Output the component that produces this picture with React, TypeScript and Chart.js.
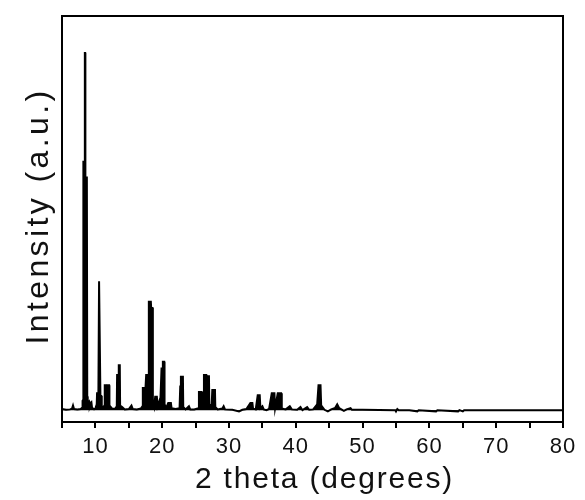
import React, { useEffect, useRef } from "react";
import { Chart, registerables } from "chart.js";

Chart.register(...registerables);

// 2 theta (degrees) positions
const twoTheta: number[] = [
  5.0, 5.6, 6.2, 6.5, 6.65, 6.8, 7.3, 7.8, 8.0, 8.08, 8.15, 8.2, 8.38, 8.42, 8.47, 8.5, 8.72, 8.78, 8.85,
  8.95, 9.05, 9.15, 9.3, 9.4, 9.5, 9.8, 10.0, 10.2, 10.25, 10.45, 10.55, 10.68, 10.75, 10.9, 10.95, 11.2,
  11.35, 11.4, 11.55, 11.7, 11.8, 12.05, 12.1, 12.5, 12.9, 13.2, 13.25, 13.45, 13.5, 13.65, 13.7, 14.0,
  14.4, 15.0, 15.4, 15.6, 16.2, 16.8, 17.05, 17.1, 17.5, 17.6, 17.95, 18.0, 18.3, 18.35, 18.55, 18.6,
  18.8, 18.95, 19.2, 19.3, 19.6, 19.7, 19.9, 20.05, 20.1, 20.3, 20.35, 20.6, 20.9, 21.3, 21.4, 22.0,
  22.6, 22.7, 22.8, 23.1, 23.15, 23.5, 24.0, 24.2, 24.8, 25.4, 25.5, 25.9, 25.95, 26.2, 26.25, 26.6,
  26.65, 26.75, 27.0, 27.05, 27.4, 27.5, 27.9, 27.95, 28.3, 29.0, 29.2, 29.4, 30.5, 31.5, 32.0, 32.6,
  33.2, 33.5, 33.6, 34.0, 34.3, 34.6, 34.7, 35.0, 35.2, 35.6, 36.0, 36.4, 36.8, 36.9, 37.3, 37.8, 37.9,
  38.5, 39.1, 39.4, 40.2, 40.7, 41.0, 41.7, 42.0, 42.6, 43.2, 43.4, 43.7, 43.8, 44.3, 44.8, 45.3, 45.9,
  46.2, 46.5, 47.2, 47.6, 48.2, 48.4, 50.0, 54.9, 55.0, 55.2, 55.4, 57.0, 58.2, 58.4, 61.0, 61.2, 64.3,
  64.5, 65.0, 65.2, 80.0,
];

// intensity (a.u.) at each position above
const intensity: number[] = [
  0.3, 0.1, 0.2, 0.4, 1.2, 0.3, 0.2, 0.3, 0.6, 2.4, 2.6, 63, 63, 90.6, 90.6, 59, 59, 3.5, 1.0,
  2.0, 2.2, 1.0, 1.8, 2.0, 0.6, 0.2, 0.4, 1.5, 4.3, 4.3, 32.7, 32.7, 3.8, 3.6, 1.0, 0.8,
  1.2, 6.3, 6.3, 5.5, 6.3, 6.3, 1.2, 0.4, 0.3, 1.0, 8.9, 8.9, 11.4, 11.4, 1.2, 0.8,
  0.2, 0.3, 1.2, 0.3, 0.2, 0.4, 1.0, 5.6, 5.6, 8.9, 8.9, 27.5, 27.5, 25.9, 25.9, 2.0,
  0.8, 3.4, 3.4, 1.0, 2.5, 1.2, 10.6, 10.6, 12.3, 12.3, 1.5, 0.6, 1.8, 1.8, 0.5, 0.3,
  0.5, 6.0, 8.5, 8.5, 0.8, 0.2, 1.0, 0.2, 0.2, 0.5, 4.6, 4.6, 1.0, 1.0, 8.9, 8.9,
  5.0, 8.6, 8.6, 1.5, 1.0, 5.1, 5.1, 0.8, 0.2, 0.4, 1.0, 0.2, 0.1, -0.3, 0.1, 0.3,
  1.8, 1.8, 0.4, 0.2, 3.8, 3.8, 0.5, 1.0, 0.2, 0.0, 0.3, 4.3, 4.3, 0.5, 4.3, 4.3, 0.4,
  0.2, 1.0, 0.2, 0.1, 0.8, 0.0, 0.8, 0.1, 0.2, 1.5, 6.3, 6.3, 1.2, 0.1, -0.3, 0.2, 0.6,
  1.5, 0.5, -0.2, 0.2, 0.5, 0.1, 0.1, 0.0, -0.3, 0.3, 0.0, 0.0, -0.3, 0.0, -0.3, 0.0, -0.3,
  0.0, -0.3, 0.0, 0.0,
];

const xTickValues: number[] = [5, 10, 15, 20, 25, 30, 35, 40, 45, 50, 55, 60, 65, 70, 75, 80];
const xLabeledTicks: number[] = [10, 20, 30, 40, 50, 60, 70, 80];

const FONT = "'Liberation Sans', Arial, sans-serif";

const framePlugin = {
  id: "frame",
  afterDraw(chart: any) {
    const { ctx, chartArea } = chart;
    ctx.save();
    ctx.strokeStyle = "#000";
    ctx.lineWidth = 2;
    ctx.strokeRect(chartArea.left, chartArea.top, chartArea.right - chartArea.left, chartArea.bottom - chartArea.top);
    ctx.restore();
  },
};

function spaced(scale: any, titleSpacing: string, labelSpacing: string, dx: number, dy: number) {
  if (scale.__spaced) return;
  scale.__spaced = true;
  const origTitle = scale.drawTitle;
  const origLabels = scale.drawLabels;
  scale.drawTitle = function (...args: any[]) {
    const ctx = this.ctx;
    ctx.save();
    ctx.letterSpacing = titleSpacing;
    ctx.translate(dx, dy);
    origTitle.apply(this, args);
    ctx.restore();
  };
  scale.drawLabels = function (...args: any[]) {
    const ctx = this.ctx;
    ctx.save();
    ctx.letterSpacing = labelSpacing;
    origLabels.apply(this, args);
    ctx.restore();
  };
}

export default function App() {
  const ref = useRef<HTMLCanvasElement | null>(null);

  useEffect(() => {
    document.body.style.margin = "0";
    if (!ref.current) return;
    const data = twoTheta.map((x, i) => ({ x, y: intensity[i] }));
    const chart = new Chart(ref.current, {
      type: "line",
      data: {
        datasets: [
          {
            data,
            borderColor: "#000",
            backgroundColor: "#000",
            borderWidth: 2,
            pointRadius: 0,
            tension: 0,
            fill: "origin",
          },
        ],
      },
      options: {
        responsive: false,
        animation: false,
        layout: { padding: { top: 16, right: 22, left: 0, bottom: 0 } },
        plugins: { legend: { display: false }, tooltip: { enabled: false } },
        scales: {
          x: {
            type: "linear",
            min: 5,
            max: 80,
            afterBuildTicks: (scale: any) => {
              scale.ticks = xTickValues.map((v) => ({ value: v }));
            },
            afterFit: (scale: any) => {
              scale.height = 78;
              spaced(scale, "1.8px", "1px", 12, 0);
            },
            ticks: {
              autoSkip: false,
              maxRotation: 0,
              color: "#111",
              font: { family: FONT, size: 22 },
              padding: 6,
              callback: (v: any) => (xLabeledTicks.includes(Number(v)) ? String(v) : ""),
            },
            grid: {
              display: true,
              drawOnChartArea: false,
              drawTicks: true,
              tickLength: 6,
              color: "#000",
              lineWidth: 2,
            },
            border: { display: true, color: "#000", width: 2 },
            title: {
              display: true,
              text: "2 theta (degrees)",
              color: "#111",
              font: { family: FONT, size: 30 },
              padding: { top: 0, bottom: 2 },
            },
          },
          y: {
            type: "linear",
            min: -3,
            max: 100,
            afterFit: (scale: any) => {
              scale.width = 62;
              spaced(scale, "3.4px", "0px", 0, -3);
            },
            ticks: { display: false },
            grid: { display: false },
            border: { display: true, color: "#000", width: 2 },
            title: {
              display: true,
              text: "Intensity (a.u.)",
              color: "#111",
              font: { family: FONT, size: 32 },
              padding: { top: 20, bottom: 0 },
            },
          },
        },
      },
      plugins: [framePlugin],
    } as any);
    return () => chart.destroy();
  }, []);

  return (
    <div style={{ width: 585, height: 500 }}>
      <canvas ref={ref} width={585} height={500} style={{ display: "block" }} />
    </div>
  );
}
